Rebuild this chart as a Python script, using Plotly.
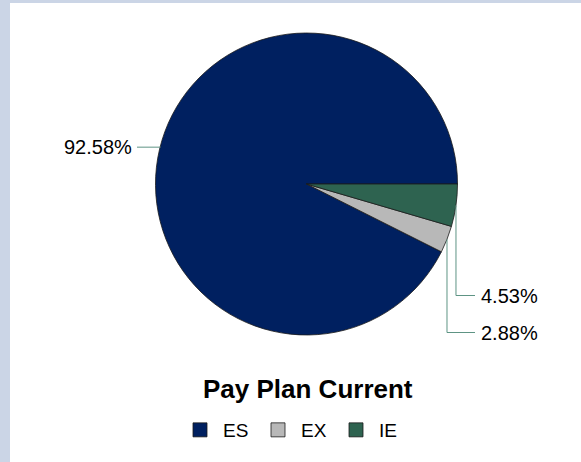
import math
import plotly.graph_objects as go

# ---- data ----
categories = ["ES", "EX", "IE"]
values = [92.58, 2.88, 4.53]
colors = ["#002060", "#B8B8B8", "#2E6350"]
title_text = "Pay Plan Current"

W, H = 581, 462
cx, cy, R = 306.5, 184.0, 151.0  # pie center / radius in px (layout)

def px(x):
    return x / W

def py(y):
    return 1 - y / H

total = sum(values)
# first slice (ES) starts at 3 o'clock and runs counter-clockwise;
# plotly's ccw mode anchors the first slice's clockwise edge at `rotation`
rotation = 90 + (total - values[0]) / total * 360.0

fig = go.Figure()
fig.add_trace(go.Pie(
    labels=categories,
    values=values,
    marker=dict(colors=colors, line=dict(color="#1a1a1a", width=0.8)),
    sort=False,
    direction="counterclockwise",
    rotation=rotation,
    textinfo="none",
    hoverinfo="label+percent",
    domain=dict(x=[px(cx - R), px(cx + R)], y=[py(cy + R), py(cy - R)]),
))

# leader lines + labels, positioned from the slice mid-angles
start = 0.0
mids = []
for v in values:
    ang = (start + v / 2) / total * 360.0  # counterclockwise from 3 o'clock
    mids.append(ang)
    start += v

line_col = "#5E9484"
shapes = []
annotations = []
label_font = dict(family="Liberation Sans, Arial", size=20, color="#000000")

for i, v in enumerate(values):
    a = math.radians(mids[i])
    ex = cx + R * math.cos(a)
    ey = cy - R * math.sin(a)
    txt = f"{v:.2f}%"
    if categories[i] == "ES":
        x0 = 137
        ly = ey - 2
        shapes.append(dict(type="line", xref="paper", yref="paper",
                           x0=px(x0), y0=py(ly), x1=px(ex + 1), y1=py(ly),
                           line=dict(color=line_col, width=1)))
        annotations.append(dict(x=px(x0 - 3), y=py(ly), xref="paper", yref="paper",
                                text=txt, showarrow=False, xanchor="right", yanchor="middle",
                                font=label_font))
    else:
        ly = 295.5 if categories[i] == "IE" else 332.5
        xh = 475
        shapes.append(dict(type="path", xref="paper", yref="paper",
                           path=f"M {px(ex)},{py(ey)} L {px(ex)},{py(ly)} L {px(xh)},{py(ly)}",
                           line=dict(color=line_col, width=1)))
        annotations.append(dict(x=px(xh + 4), y=py(ly), xref="paper", yref="paper",
                                text=txt, showarrow=False, xanchor="left", yanchor="middle",
                                font=label_font))

# title below the pie
annotations.append(dict(x=px(308), y=py(389), xref="paper", yref="paper",
                        text=f"<b>{title_text}</b>", showarrow=False,
                        xanchor="center", yanchor="middle",
                        font=dict(family="Liberation Sans, Arial", size=26, color="#000000")))

# decorative frame strips (left + top)
shapes.append(dict(type="rect", xref="paper", yref="paper", x0=0, x1=px(10), y0=0, y1=1,
                   fillcolor="#CBD5E6", line=dict(width=0), layer="below"))
shapes.append(dict(type="rect", xref="paper", yref="paper", x0=0, x1=1, y0=py(3), y1=1,
                   fillcolor="#CBD5E6", line=dict(width=0), layer="below"))

fig.update_layout(
    width=W, height=H,
    margin=dict(l=0, r=0, t=0, b=0),
    paper_bgcolor="#FFFFFF",
    plot_bgcolor="#FFFFFF",
    showlegend=True,
    legend=dict(orientation="h", x=px(177), xanchor="left", y=py(430), yanchor="middle",
                font=dict(family="Liberation Sans, Arial", size=19, color="#000000"),
                traceorder="normal", itemclick=False, itemwidth=36, entrywidth=27),
    shapes=shapes,
    annotations=annotations,
)

post = (
    "document.body.style.margin='0';"
    "document.body.style.overflow='hidden';"
    "document.querySelectorAll('.legendpie').forEach(function(p){p.setAttribute('d','M7,7H-7V-7H7Z');});"
)
fig.write_html("out.html", config={"displayModeBar": False}, post_script=post)
